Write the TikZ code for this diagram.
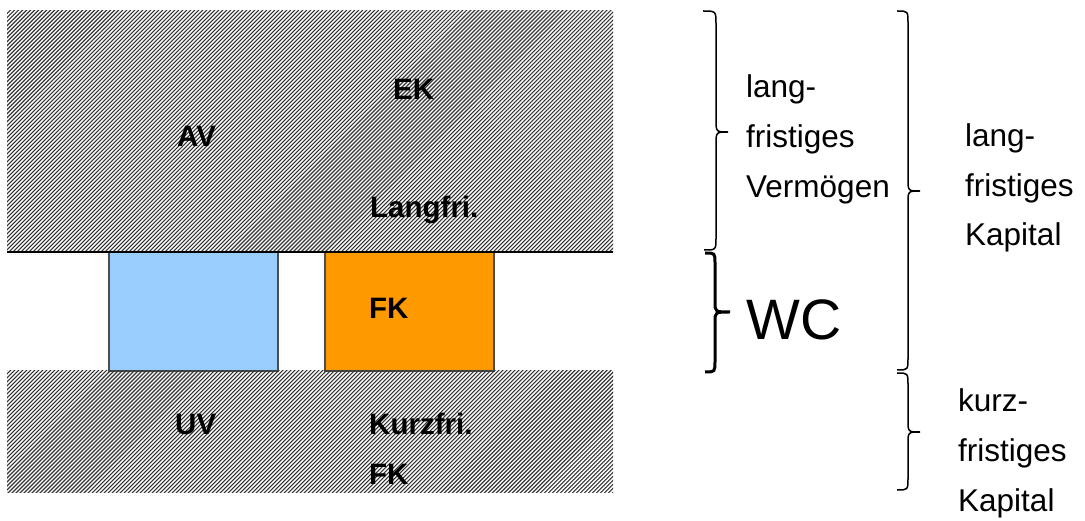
\documentclass[tikz,border=0pt]{standalone}
\usepackage{fontspec}
\setmainfont{Liberation Sans}
\usetikzlibrary{patterns.meta}
\begin{document}
\begin{tikzpicture}[x=1pt,y=-1pt,
  hatched/.style={pattern={Lines[angle=45,distance=2.83pt,line width=1.1pt]},pattern color=black!80},
  box/.style={draw=black!70,line width=1.2pt},
  lbl/.style={anchor=base west,inner sep=0pt,font=\fontsize{29.5}{34}\selectfont\bfseries},
  txt/.style={anchor=base west,inner sep=0pt,font=\fontsize{31.5}{36}\selectfont},
  thinbrace/.style={line width=1.5pt},
  thickbrace/.style={line width=3pt}]
\useasboundingbox (0,0) rectangle (1085,521);

% working capital boxes
\draw[box,fill={rgb,255:red,153;green,204;blue,255}] (109,252) rectangle (278,371);
\draw[box,fill={rgb,255:red,255;green,153;blue,0}] (325,252) rectangle (494,371);

% hatched balance blocks
\fill[hatched] (7,11) rectangle (613,252);
\fill[hatched] (7,371) rectangle (613,492);
\draw[line width=1.5pt] (7,252) -- (613,252);

% labels in the blocks
\node[lbl] (av) at (177,147) {AV};
\node[lbl] (ek) at (393,100) {EK};
\node[lbl] (lf) at (370,218) {Langfri.};
\node[lbl] (fk) at (369,319) {FK};
\node[lbl] (uv) at (175,435) {UV};
\node[lbl] (kf) at (369,435) {Kurzfri.};
\node[lbl] (fk2) at (369,484) {FK};

% braces
\draw[thinbrace] (703,11) .. controls (716,11) and (716,11) .. (716,24) -- (716,119)
  .. controls (716,132) and (716,132) .. (728,132)
  .. controls (716,132) and (716,132) .. (716,145) -- (716,238)
  .. controls (716,250) and (716,250) .. (704,250);
\draw[thickbrace] (705,253) .. controls (715,253) and (715,253) .. (715,263) -- (715,302)
  .. controls (715,312) and (715,312) .. (730,312)
  .. controls (715,312) and (715,312) .. (715,322) -- (715,361)
  .. controls (715,372) and (715,372) .. (705,372);
\draw[thinbrace] (897,11) .. controls (908,11) and (908,11) .. (908,23) -- (908,179)
  .. controls (908,191) and (908,191) .. (920,191)
  .. controls (908,191) and (908,191) .. (908,203) -- (908,358)
  .. controls (908,370) and (908,370) .. (897,370);
\draw[thinbrace] (897,373) .. controls (908,373) and (908,373) .. (908,385) -- (908,420)
  .. controls (908,432) and (908,432) .. (920,432)
  .. controls (908,432) and (908,432) .. (908,444) -- (908,478)
  .. controls (908,490) and (908,490) .. (897,490);

% brace texts
\node[txt] (lv1) at (746,98) {lang-};
\node[txt] (lv2) at (746,148) {fristiges};
\node[txt] (lv3) at (746,198) {Vermögen};
\node[anchor=base west,inner sep=0pt,font=\fontsize{57}{60}\selectfont] (wc) at (746,340) {WC};
\node[txt] (lk1) at (965,147) {lang-};
\node[txt] (lk2) at (965,197) {fristiges};
\node[txt] (lk3) at (965,246) {Kapital};
\node[txt] (kk1) at (958,411) {kurz-};
\node[txt] (kk2) at (958,461) {fristiges};
\node[txt] (kk3) at (958,511) {Kapital};
\end{tikzpicture}
\end{document}
